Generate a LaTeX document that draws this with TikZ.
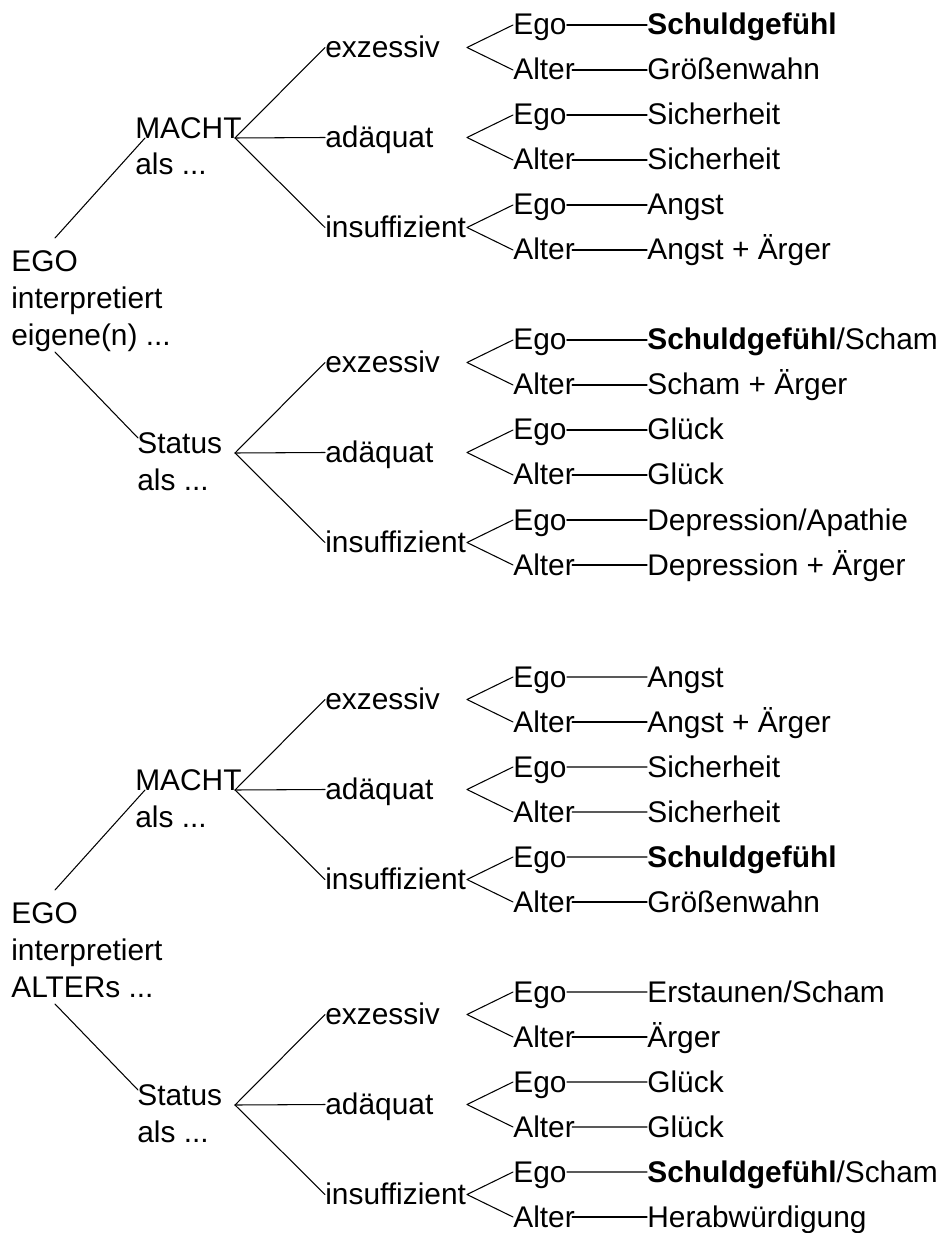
\documentclass[tikz,border=0pt]{standalone}
\usepackage{fontspec}
\setmainfont{Liberation Sans}
\usetikzlibrary{calc}

\begin{document}
\begin{tikzpicture}[font={\fontsize{17}{21}\selectfont},line cap=round,line join=round]
  \tikzset{
    txt/.style={inner sep=0pt},
    row/.style={txt,anchor=west,text height=0.4cm,text depth=0pt},
    stack/.style={txt,anchor=base west,align=left},
    edge/.style={line width=0.6pt}}
  \useasboundingbox (0,0) rectangle (18.82,-24.66);
  \foreach \t/\whose in {1/{eigene(n) ...},2/{ALTERs ...}}{
    \begin{scope}[shift={(0,{-13.04*(\t-1)})}]
      % EGO and the two branches (base = last line)
      \node[stack] (ego\t) at (0.22,-6.90) {EGO\\interpretiert\\\whose};
      \node[stack] (macht\t) at (2.70,-3.50) {MACHT\\als ...};
      \node[stack] (status\t) at (2.74,-9.80) {Status\\als ...};
      \coordinate (egoa\t) at (1.1,-4.76);
      \coordinate (egob\t) at (1.1,-7.04);
      \coordinate (machta\t) at (2.9,-2.76);
      \coordinate (statusa\t) at (2.76,-8.76);
      \coordinate (v\t-1) at (4.7,-2.76);
      \coordinate (v\t-2) at (4.7,-9.06);
      \draw[edge] (egoa\t) -- (machta\t);
      \draw[edge] (egob\t) -- (statusa\t);
      % Ego / Alter
      \foreach \n/\who in {1/Ego,2/Alter,3/Ego,4/Alter,5/Ego,6/Alter,7/Ego,8/Alter,9/Ego,10/Alter,11/Ego,12/Alter}{
        \node[row] (w\t-\n) at (10.26,{-(0.5+0.9*(\n-1)+0.9*(\n>6))}) {\who};
      }
      % exzessiv / adaequat / insuffizient
      \foreach \i/\lvl in {1/exzessiv,2/adäquat,3/insuffizient,4/exzessiv,5/adäquat,6/insuffizient}{
        \pgfmathsetmacro\ym{-(0.95+1.8*(\i-1)+0.9*(\i>3))}
        \pgfmathtruncatemacro\a{2*\i-1}
        \pgfmathtruncatemacro\b{2*\i}
        \pgfmathtruncatemacro\k{1+(\i>3)}
        \node[row] (m\t-\i) at (6.5,\ym) {\lvl};
        \coordinate (f\t-\i) at (9.34,\ym);
        \draw[edge] (w\t-\a.west) -- (f\t-\i) -- (w\t-\b.west);
        \draw[edge] (v\t-\k) -- (m\t-\i.west);
      }
    \end{scope}
  }
  % Gefuehle
  \foreach \t/\n/\res in {1/1/{\textbf{Schuldgefühl}},1/2/{Größenwahn},1/3/{Sicherheit},1/4/{Sicherheit},1/5/{Angst},1/6/{Angst + Ärger},
      1/7/{\textbf{Schuldgefühl}/Scham},1/8/{Scham + Ärger},1/9/{Glück},1/10/{Glück},1/11/{Depression/Apathie},1/12/{Depression + Ärger},
      2/1/{Angst},2/2/{Angst + Ärger},2/3/{Sicherheit},2/4/{Sicherheit},2/5/{\textbf{Schuldgefühl}},2/6/{Größenwahn},
      2/7/{Erstaunen/Scham},2/8/{Ärger},2/9/{Glück},2/10/{Glück},2/11/{\textbf{Schuldgefühl}/Scham},2/12/{Herabwürdigung}}{
    \pgfmathsetmacro\yr{-(0.5+0.9*(\n-1)+0.9*(\n>6)+13.04*(\t-1))}
    \pgfmathsetmacro\sh{isodd(\n) ? 0 : -0.06}
    \node[row] (r\t-\n) at (12.94,\yr) {\res};
    \draw[edge,shorten <=\sh cm] (w\t-\n.east) -- (r\t-\n.west);
  }
\end{tikzpicture}
\end{document}
